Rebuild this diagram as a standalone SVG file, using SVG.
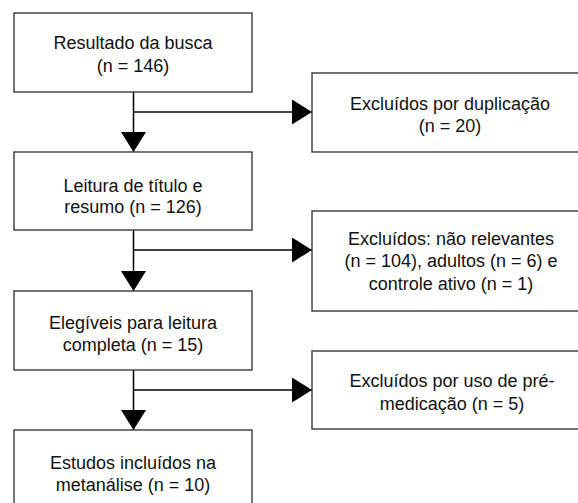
<svg xmlns="http://www.w3.org/2000/svg" width="578" height="503" viewBox="0 0 578 503">
<style>
.box{fill:#fff;stroke:#3a3a3a;stroke-width:1.4}
.t{font-family:"Liberation Sans",Arial,Helvetica,sans-serif;font-size:18px;fill:#111;text-anchor:middle}
.c{fill:none;stroke:#000;stroke-width:1.5}
</style>
<defs>
<marker id="ah" markerUnits="userSpaceOnUse" markerWidth="20" markerHeight="25" refX="20" refY="12.5" orient="auto">
<path d="M0,0 L20,12.5 L0,25 z" fill="#000"/>
</marker>
</defs>
<rect width="578" height="503" fill="#fff"/>
<g id="connectors">
<line class="c" x1="133.5" y1="92" x2="133.5" y2="152" marker-end="url(#ah)"/>
<line class="c" x1="133.5" y1="112" x2="312" y2="112" marker-end="url(#ah)"/>
<line class="c" x1="133.5" y1="230" x2="133.5" y2="291" marker-end="url(#ah)"/>
<line class="c" x1="133.5" y1="250" x2="312" y2="250" marker-end="url(#ah)"/>
<line class="c" x1="133.5" y1="370" x2="133.5" y2="430" marker-end="url(#ah)"/>
<line class="c" x1="133.5" y1="390" x2="312" y2="390" marker-end="url(#ah)"/>
</g>
<g id="n1">
<rect class="box" x="14" y="13" width="238" height="79"/>
<text class="t" x="133" y="49">Resultado da busca</text>
<text class="t" x="133" y="72">(n = 146)</text>
</g>
<g id="n2">
<rect class="box" x="14" y="152" width="238" height="78"/>
<text class="t" x="133" y="192">Leitura de título e</text>
<text class="t" x="133" y="213">resumo (n = 126)</text>
</g>
<g id="n3">
<rect class="box" x="14" y="291" width="238" height="79"/>
<text class="t" x="133" y="329">Elegíveis para leitura</text>
<text class="t" x="133" y="351">completa (n = 15)</text>
</g>
<g id="n4">
<rect class="box" x="14" y="430" width="238" height="90"/>
<text class="t" x="133" y="469">Estudos incluídos na</text>
<text class="t" x="133" y="491">metanálise (n = 10)</text>
</g>
<g id="e1">
<rect class="box" x="312" y="73" width="290" height="79"/>
<text class="t" x="450" y="109.5">Excluídos por duplicação</text>
<text class="t" x="450" y="131.5">(n = 20)</text>
</g>
<g id="e2">
<rect class="box" x="312" y="211" width="290" height="100"/>
<text class="t" x="451" y="244.5">Excluídos: não relevantes</text>
<text class="t" x="451" y="267">(n = 104), adultos (n = 6) e</text>
<text class="t" x="451" y="289.5">controle ativo (n = 1)</text>
</g>
<g id="e3">
<rect class="box" x="312" y="351" width="290" height="78"/>
<text class="t" x="452" y="387">Excluídos por uso de pré-</text>
<text class="t" x="452" y="410">medicação (n = 5)</text>
</g>
</svg>
